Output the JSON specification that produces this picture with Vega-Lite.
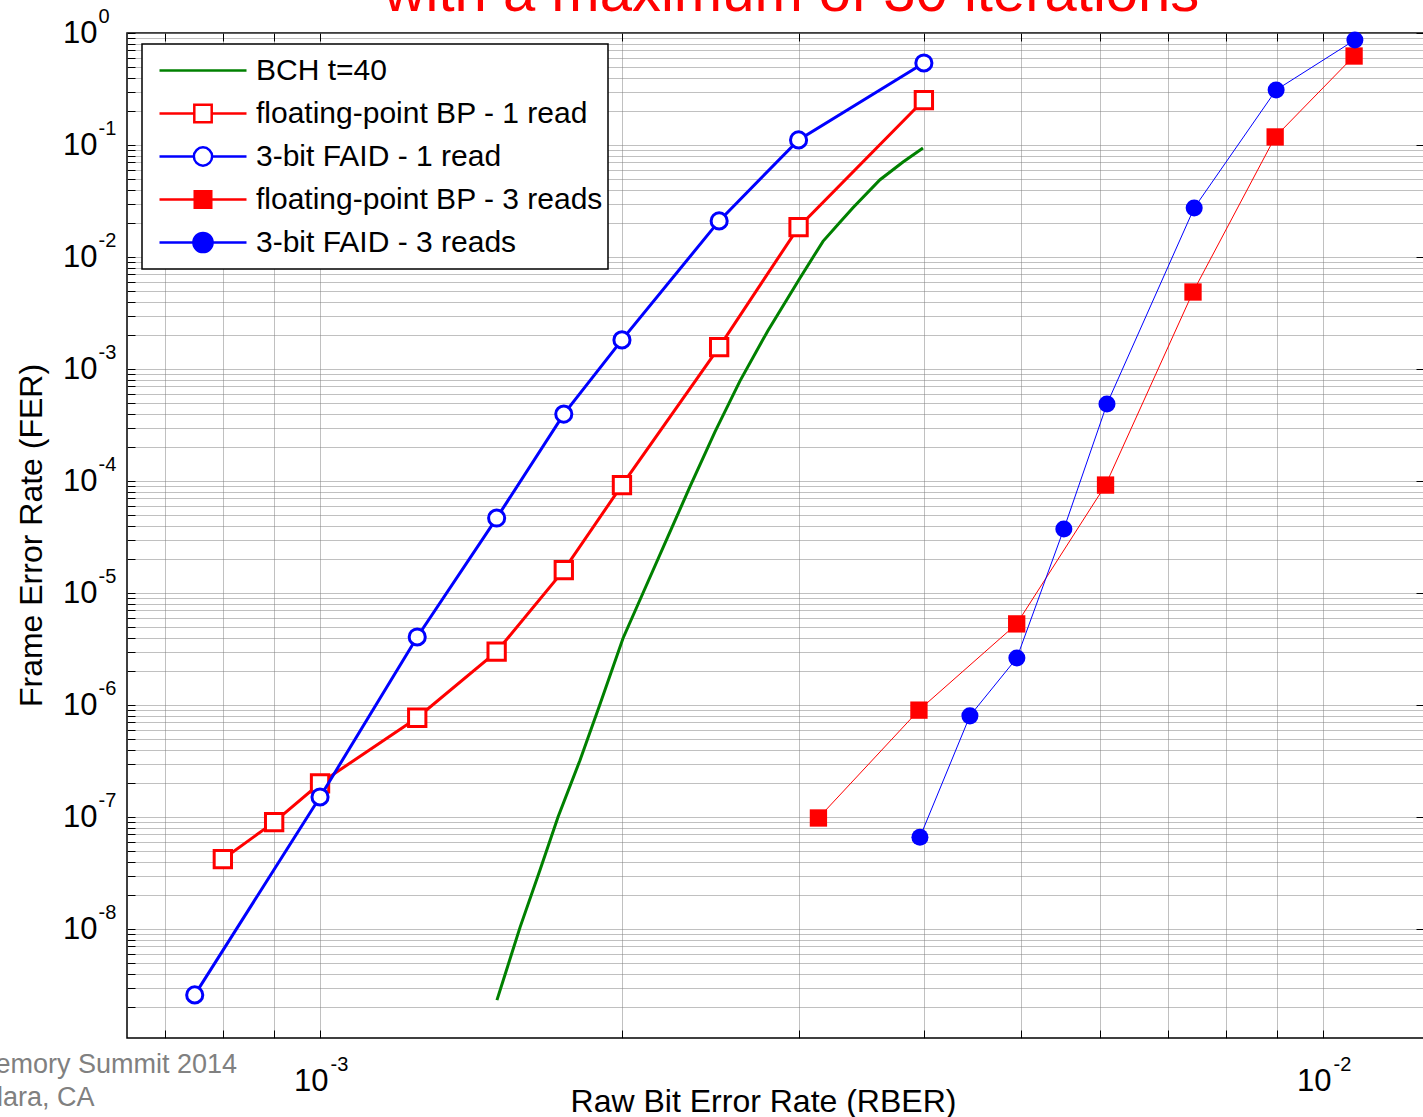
{
  "$schema": "https://vega.github.io/schema/vega-lite/v6.json",
  "width": 1297,
  "height": 1005,
  "autosize": {"type": "none"},
  "padding": {"left": 127, "top": 33, "right": 0, "bottom": 79},
  "background": "white",
  "config": {
    "view": {"stroke": "black", "strokeWidth": 1.5},
    "font": "Liberation Sans",
    "legend": {"strokeWidth": 1.5},
    "axis": {
      "labelFont": "Liberation Sans",
      "titleFont": "Liberation Sans",
      "labelColor": "black",
      "titleColor": "black",
      "titleFontWeight": "normal",
      "domain": false,
      "ticks": false,
      "grid": false,
      "labels": false,
      "labelOverlap": false,
      "labelFlush": false,
      "labelBound": false,
      "offset": 0,
      "tickColor": "black",
      "tickWidth": 1,
      "gridColor": "#808080",
      "gridDash": [1, 1],
      "gridWidth": 1
    }
  },
  "data": {
    "values": [
      {"series": "BCH t=40", "rber": 0.001501, "fer": 2.32e-9},
      {"series": "BCH t=40", "rber": 0.001583, "fer": 1.04e-8},
      {"series": "BCH t=40", "rber": 0.001657, "fer": 3.36e-8},
      {"series": "BCH t=40", "rber": 0.001727, "fer": 1.0e-7},
      {"series": "BCH t=40", "rber": 0.001816, "fer": 3.2e-7},
      {"series": "BCH t=40", "rber": 0.001902, "fer": 1.02e-6},
      {"series": "BCH t=40", "rber": 0.002005, "fer": 3.95e-6},
      {"series": "BCH t=40", "rber": 0.002099, "fer": 1.0e-5},
      {"series": "BCH t=40", "rber": 0.002223, "fer": 3.2e-5},
      {"series": "BCH t=40", "rber": 0.002338, "fer": 8.9e-5},
      {"series": "BCH t=40", "rber": 0.002476, "fer": 2.75e-4},
      {"series": "BCH t=40", "rber": 0.002622, "fer": 7.8e-4},
      {"series": "BCH t=40", "rber": 0.002796, "fer": 2.2e-3},
      {"series": "BCH t=40", "rber": 0.00301, "fer": 6.5e-3},
      {"series": "BCH t=40", "rber": 0.003173, "fer": 1.38e-2},
      {"series": "BCH t=40", "rber": 0.003299, "fer": 2.04e-2},
      {"series": "BCH t=40", "rber": 0.003399, "fer": 2.75e-2},
      {"series": "BCH t=40", "rber": 0.003617, "fer": 4.9e-2},
      {"series": "BCH t=40", "rber": 0.003813, "fer": 7.05e-2},
      {"series": "BCH t=40", "rber": 0.003992, "fer": 9.4e-2},

      {"series": "floating-point BP - 1 read", "rber": 0.0008, "fer": 4.2e-8},
      {"series": "floating-point BP - 1 read", "rber": 0.0009, "fer": 9.0e-8},
      {"series": "floating-point BP - 1 read", "rber": 0.001, "fer": 2.0e-7},
      {"series": "floating-point BP - 1 read", "rber": 0.00125, "fer": 7.7e-7},
      {"series": "floating-point BP - 1 read", "rber": 0.0015, "fer": 3.0e-6},
      {"series": "floating-point BP - 1 read", "rber": 0.00175, "fer": 1.6e-5},
      {"series": "floating-point BP - 1 read", "rber": 0.002, "fer": 9.2e-5},
      {"series": "floating-point BP - 1 read", "rber": 0.0025, "fer": 1.57e-3},
      {"series": "floating-point BP - 1 read", "rber": 0.003, "fer": 1.85e-2},
      {"series": "floating-point BP - 1 read", "rber": 0.004, "fer": 0.252},

      {"series": "3-bit FAID - 1 read", "rber": 0.00075, "fer": 2.58e-9},
      {"series": "3-bit FAID - 1 read", "rber": 0.001, "fer": 1.51e-7},
      {"series": "3-bit FAID - 1 read", "rber": 0.00125, "fer": 4.05e-6},
      {"series": "3-bit FAID - 1 read", "rber": 0.0015, "fer": 4.67e-5},
      {"series": "3-bit FAID - 1 read", "rber": 0.00175, "fer": 3.96e-4},
      {"series": "3-bit FAID - 1 read", "rber": 0.002, "fer": 1.82e-3},
      {"series": "3-bit FAID - 1 read", "rber": 0.0025, "fer": 2.1e-2},
      {"series": "3-bit FAID - 1 read", "rber": 0.003, "fer": 0.111},
      {"series": "3-bit FAID - 1 read", "rber": 0.004, "fer": 0.54},

      {"series": "floating-point BP - 3 reads", "rber": 0.00314, "fer": 9.8e-8},
      {"series": "floating-point BP - 3 reads", "rber": 0.003955, "fer": 9.0e-7},
      {"series": "floating-point BP - 3 reads", "rber": 0.00495, "fer": 5.3e-6},
      {"series": "floating-point BP - 3 reads", "rber": 0.00607, "fer": 9.2e-5},
      {"series": "floating-point BP - 3 reads", "rber": 0.00742, "fer": 4.87e-3},
      {"series": "floating-point BP - 3 reads", "rber": 0.00896, "fer": 0.118},
      {"series": "floating-point BP - 3 reads", "rber": 0.01074, "fer": 0.623},

      {"series": "3-bit FAID - 3 reads", "rber": 0.003964, "fer": 6.6e-8},
      {"series": "3-bit FAID - 3 reads", "rber": 0.004446, "fer": 8.0e-7},
      {"series": "3-bit FAID - 3 reads", "rber": 0.004952, "fer": 2.63e-6},
      {"series": "3-bit FAID - 3 reads", "rber": 0.005516, "fer": 3.73e-5},
      {"series": "3-bit FAID - 3 reads", "rber": 0.00609, "fer": 4.87e-4},
      {"series": "3-bit FAID - 3 reads", "rber": 0.00744, "fer": 2.74e-2},
      {"series": "3-bit FAID - 3 reads", "rber": 0.00898, "fer": 0.31},
      {"series": "3-bit FAID - 3 reads", "rber": 0.01076, "fer": 0.866}
    ]
  },
  "resolve": {"axis": {"x": "independent", "y": "independent"}},
  "layer": [
    {
      "transform": [{"filter": {"field": "series", "equal": "BCH t=40"}}],
      "mark": {"type": "line", "color": "#008000", "strokeWidth": 3},
      "encoding": {
        "x": {"field": "rber", "type": "quantitative",
          "scale": {"type": "log", "domain": [0.000642, 0.01261], "nice": false},
          "axis": {"orient": "bottom", "values": [0.001, 0.01], "labels": true, "labelExpr": "'10'",
            "labelAlign": "right", "labelOffset": 8, "labelBaseline": "alphabetic", "labelPadding": 52, "labelFontSize": 31,
            "title": "Raw Bit Error Rate (RBER)", "titleFontSize": 32, "titleX": 636, "titleY": 73,
            "titleAlign": "center", "titleBaseline": "alphabetic"}},
        "y": {"field": "fer", "type": "quantitative",
          "scale": {"type": "log", "domain": [1.064e-9, 1], "nice": false},
          "axis": {"orient": "left", "values": [1e-8, 1e-7, 1e-6, 1e-5, 1e-4, 1e-3, 1e-2, 1e-1, 1], "labels": true, "labelExpr": "'10'",
            "labelAlign": "right", "labelBaseline": "middle", "labelPadding": 30, "labelFontSize": 31,
            "title": "Frame Error Rate (FER)", "titleFontSize": 32, "titleAngle": 270, "titleX": -86, "titleY": 502,
            "titleAlign": "center", "titleBaseline": "alphabetic"}}
      }
    },
    {
      "transform": [{"filter": {"field": "series", "equal": "floating-point BP - 1 read"}}],
      "mark": {"type": "line", "color": "#ff0000", "strokeWidth": 3,
        "point": {"shape": "square", "size": 300, "filled": false, "fill": "white", "stroke": "#ff0000", "strokeWidth": 3}},
      "encoding": {
        "x": {"field": "rber", "type": "quantitative",
          "scale": {"type": "log", "domain": [0.000642, 0.01261], "nice": false},
          "axis": {"orient": "bottom", "values": [0.001, 0.01], "labels": true,
            "labelExpr": "'' + round(log(datum.value) / LN10)",
            "labelAlign": "left", "labelOffset": 10, "labelBaseline": "alphabetic", "labelPadding": 32, "labelFontSize": 20,
            "title": null}},
        "y": {"field": "fer", "type": "quantitative",
          "scale": {"type": "log", "domain": [1.064e-9, 1], "nice": false},
          "axis": {"orient": "left", "values": [1e-8, 1e-7, 1e-6, 1e-5, 1e-4, 1e-3, 1e-2, 1e-1, 1], "labels": true,
            "labelExpr": "'' + round(log(datum.value) / LN10)",
            "labelAlign": "left", "labelBaseline": "middle", "labelPadding": 29, "labelOffset": -17, "labelFontSize": 20,
            "title": null}}
      }
    },
    {
      "transform": [{"filter": {"field": "series", "equal": "3-bit FAID - 1 read"}}],
      "mark": {"type": "line", "color": "#0000ff", "strokeWidth": 3,
        "point": {"shape": "circle", "size": 260, "filled": false, "fill": "white", "stroke": "#0000ff", "strokeWidth": 3}},
      "encoding": {
        "x": {"field": "rber", "type": "quantitative",
          "scale": {"type": "log", "domain": [0.000642, 0.01261], "nice": false},
          "axis": {"orient": "top", "values": [0.0007, 0.0008, 0.0009, 0.001, 0.002, 0.003, 0.004, 0.005, 0.006, 0.007, 0.008, 0.009, 0.01],
            "ticks": true, "tickSize": -8,
            "title": "with a maximum of 30 iterations", "titleColor": "#ff0000", "titleFontSize": 58,
            "titleX": 664, "titleY": -23, "titleAlign": "center", "titleBaseline": "alphabetic"}},
        "y": {"field": "fer", "type": "quantitative",
          "scale": {"type": "log", "domain": [1.064e-9, 1], "nice": false},
          "axis": {"orient": "right", "values": [1e-8, 1e-7, 1e-6, 1e-5, 1e-4, 1e-3, 1e-2, 1e-1, 1],
            "ticks": true, "tickSize": -8, "title": null}}
      }
    },
    {
      "transform": [{"filter": {"field": "series", "equal": "floating-point BP - 3 reads"}}],
      "mark": {"type": "line", "color": "#ff0000", "strokeWidth": 1,
        "point": {"shape": "square", "size": 300, "filled": true, "color": "#ff0000"}},
      "encoding": {
        "x": {"field": "rber", "type": "quantitative",
          "scale": {"type": "log", "domain": [0.000642, 0.01261], "nice": false},
          "axis": {"orient": "bottom", "values": [0.0007, 0.0008, 0.0009, 0.001, 0.002, 0.003, 0.004, 0.005, 0.006, 0.007, 0.008, 0.009, 0.01],
            "grid": true, "ticks": true, "tickSize": -8, "title": null}},
        "y": {"field": "fer", "type": "quantitative",
          "scale": {"type": "log", "domain": [1.064e-9, 1], "nice": false},
          "axis": {"orient": "left",
            "values": [2e-9, 3e-9, 4e-9, 5e-9, 6e-9, 7e-9, 8e-9, 9e-9,
              1e-8, 2e-8, 3e-8, 4e-8, 5e-8, 6e-8, 7e-8, 8e-8, 9e-8,
              1e-7, 2e-7, 3e-7, 4e-7, 5e-7, 6e-7, 7e-7, 8e-7, 9e-7,
              1e-6, 2e-6, 3e-6, 4e-6, 5e-6, 6e-6, 7e-6, 8e-6, 9e-6,
              1e-5, 2e-5, 3e-5, 4e-5, 5e-5, 6e-5, 7e-5, 8e-5, 9e-5,
              1e-4, 2e-4, 3e-4, 4e-4, 5e-4, 6e-4, 7e-4, 8e-4, 9e-4,
              1e-3, 2e-3, 3e-3, 4e-3, 5e-3, 6e-3, 7e-3, 8e-3, 9e-3,
              1e-2, 2e-2, 3e-2, 4e-2, 5e-2, 6e-2, 7e-2, 8e-2, 9e-2,
              1e-1, 2e-1, 3e-1, 4e-1, 5e-1, 6e-1, 7e-1, 8e-1, 9e-1, 1],
            "grid": true, "ticks": true, "tickSize": -8, "title": null}}
      }
    },
    {
      "transform": [{"filter": {"field": "series", "equal": "3-bit FAID - 3 reads"}}],
      "mark": {"type": "line", "color": "#0000ff", "strokeWidth": 1,
        "point": {"shape": "circle", "size": 290, "filled": true, "color": "#0000ff"}},
      "encoding": {
        "x": {"field": "rber", "type": "quantitative",
          "scale": {"type": "log", "domain": [0.000642, 0.01261], "nice": false},
          "axis": {"orient": "bottom", "values": [0.001],
            "title": ["Flash Memory Summit 2014", "Santa Clara, CA"], "titleColor": "#808080", "titleFontSize": 27,
            "titleX": -228, "titleY": 13, "titleAlign": "left", "titleBaseline": "top", "titleLineHeight": 33}},
        "y": {"field": "fer", "type": "quantitative",
          "scale": {"type": "log", "domain": [1.064e-9, 1], "nice": false},
          "axis": null}
      }
    },
    {
      "mark": {"type": "point", "opacity": 0},
      "encoding": {
        "x": {"field": "rber", "type": "quantitative",
          "scale": {"type": "log", "domain": [0.000642, 0.01261], "nice": false}, "axis": null},
        "y": {"field": "fer", "type": "quantitative",
          "scale": {"type": "log", "domain": [1.064e-9, 1], "nice": false}, "axis": null},
        "fill": {"field": "series", "type": "nominal",
          "scale": {"domain": ["BCH t=40", "floating-point BP - 1 read", "3-bit FAID - 1 read", "floating-point BP - 3 reads", "3-bit FAID - 3 reads"],
            "range": ["transparent", "white", "white", "#ff0000", "#0000ff"]},
          "legend": {"title": null, "orient": "none", "legendX": 15, "legendY": 11, "padding": 5,
            "fillColor": "white", "strokeColor": "black", "cornerRadius": 0,
            "symbolSize": 7569, "symbolOffset": 11, "labelOffset": 8, "clipHeight": 43, "rowPadding": 0,
            "labelFont": "Liberation Sans", "labelFontSize": 30, "labelColor": "black", "labelLimit": 1000,
            "labelBaseline": "middle", "symbolStrokeWidth": 2.5, "symbolOpacity": 1,
            "labelExpr": "datum.label + '\u00a0\u00a0\u00a0\u00a0'"}},
        "stroke": {"field": "series", "type": "nominal",
          "scale": {"domain": ["BCH t=40", "floating-point BP - 1 read", "3-bit FAID - 1 read", "floating-point BP - 3 reads", "3-bit FAID - 3 reads"],
            "range": ["#008000", "#ff0000", "#0000ff", "#ff0000", "#0000ff"]},
          "legend": {"title": null, "orient": "none", "legendX": 15, "legendY": 11, "padding": 5,
            "fillColor": "white", "strokeColor": "black", "cornerRadius": 0,
            "symbolSize": 7569, "symbolOffset": 11, "labelOffset": 8, "clipHeight": 43, "rowPadding": 0,
            "labelFont": "Liberation Sans", "labelFontSize": 30, "labelColor": "black", "labelLimit": 1000,
            "labelBaseline": "middle", "symbolStrokeWidth": 2.5, "symbolOpacity": 1,
            "labelExpr": "datum.label + '\u00a0\u00a0\u00a0\u00a0'"}},
        "shape": {"field": "series", "type": "nominal",
          "scale": {"domain": ["BCH t=40", "floating-point BP - 1 read", "3-bit FAID - 1 read", "floating-point BP - 3 reads", "3-bit FAID - 3 reads"],
            "range": [
              "M-1,0H1",
              "M-1,0H-0.2M0.2,0H1M-0.2,-0.2H0.2V0.2H-0.2Z",
              "M-1,0H-0.21M0.21,0H1M0.21,0A0.21,0.21,0,1,1,-0.21,0A0.21,0.21,0,1,1,0.21,0Z",
              "M-1,0H1M-0.19,-0.19H0.19V0.19H-0.19Z",
              "M-1,0H1M0.22,0A0.22,0.22,0,1,1,-0.22,0A0.22,0.22,0,1,1,0.22,0Z"
            ]},
          "legend": {"title": null, "orient": "none", "legendX": 15, "legendY": 11, "padding": 5,
            "fillColor": "white", "strokeColor": "black", "cornerRadius": 0,
            "symbolSize": 7569, "symbolOffset": 11, "labelOffset": 8, "clipHeight": 43, "rowPadding": 0,
            "labelFont": "Liberation Sans", "labelFontSize": 30, "labelColor": "black", "labelLimit": 1000,
            "labelBaseline": "middle", "symbolStrokeWidth": 2.5, "symbolOpacity": 1,
            "labelExpr": "datum.label + '\u00a0\u00a0\u00a0\u00a0'"}}
      }
    }
  ]
}
